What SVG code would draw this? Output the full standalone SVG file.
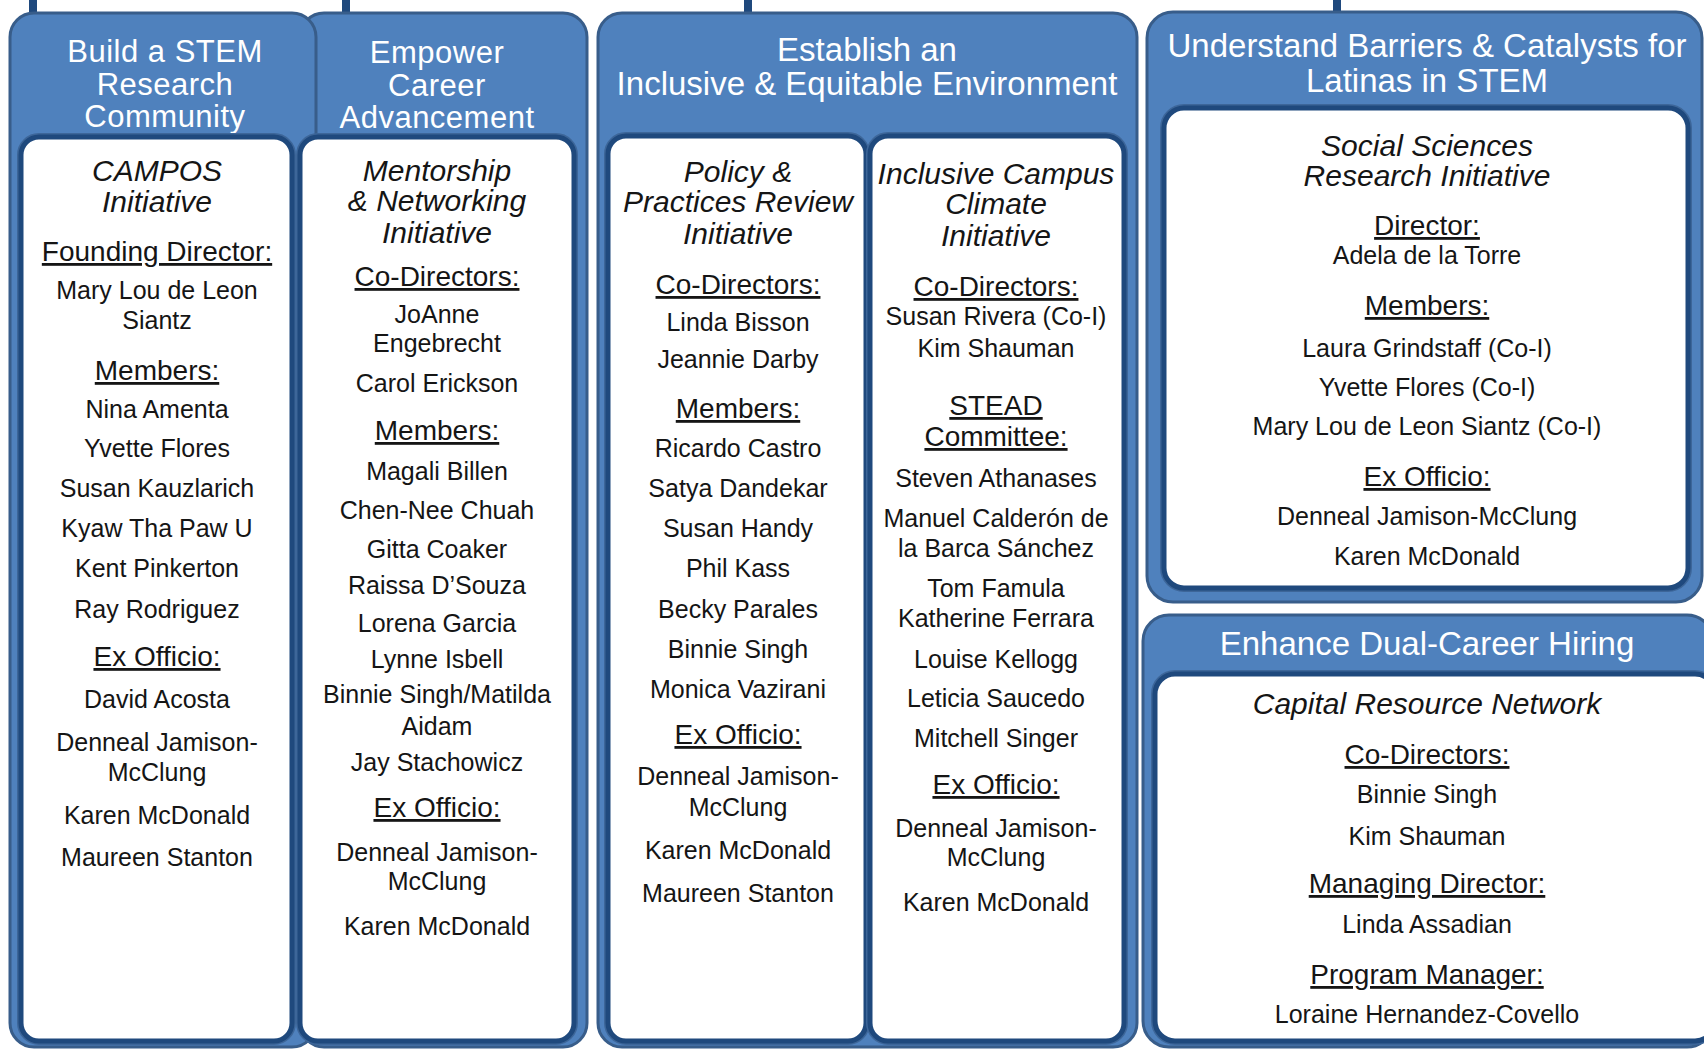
<svg xmlns="http://www.w3.org/2000/svg" width="1704" height="1049" viewBox="0 0 1704 1049">
<style>
.panel{fill:#4F81BD;stroke:#385D8A;stroke-width:3}
.halo{fill:none;stroke:#3D6699;stroke-width:8}
.box{fill:#fff;stroke:#1F497D;stroke-width:5}
.stub{fill:#1F497D}
text{font-family:"Liberation Sans",Arial,sans-serif;text-anchor:middle;fill:#151515}
.hd{font-size:33px;fill:#fff}
.hs{font-size:31px;fill:#fff;letter-spacing:0.5px}
.ti{font-size:30px;font-style:italic}
.lb{font-size:28px;text-decoration:underline}
.nm{font-size:25px}
</style>
<rect width="1704" height="1049" fill="#fff"/>
<g id="connectors">
<rect class="stub" x="29" y="0" width="8" height="14"/>
<rect class="stub" x="342" y="0" width="8" height="14"/>
<rect class="stub" x="744" y="0" width="8" height="14"/>
<rect class="stub" x="1333" y="0" width="8" height="14"/>
</g>
<g id="panel-empower">
<rect class="panel" x="300" y="13" width="287" height="1034" rx="24"/>
<text class="hs" x="437" y="63">Empower</text>
<text class="hs" x="437" y="96">Career</text>
<text class="hs" x="437" y="128">Advancement</text>
</g>
<g id="panel-build">
<rect class="panel" x="10" y="13" width="306" height="1034" rx="24"/>
<text class="hs" x="165" y="62">Build a STEM</text>
<text class="hs" x="165" y="95">Research</text>
<text class="hs" x="165" y="127">Community</text>
</g>
<g id="box-campos">
<rect class="halo" x="21" y="137" width="271" height="904" rx="18"/>
<rect class="box" x="21" y="137" width="271" height="904" rx="18"/>
<text class="ti" x="157" y="181">CAMPOS</text>
<text class="ti" x="157" y="212">Initiative</text>
<text class="lb" x="157" y="261">Founding Director:</text>
<text class="nm" x="157" y="299">Mary Lou de Leon</text>
<text class="nm" x="157" y="329">Siantz</text>
<text class="lb" x="157" y="380">Members:</text>
<text class="nm" x="157" y="418">Nina Amenta</text>
<text class="nm" x="157" y="457">Yvette Flores</text>
<text class="nm" x="157" y="497">Susan Kauzlarich</text>
<text class="nm" x="157" y="537">Kyaw Tha Paw U</text>
<text class="nm" x="157" y="577">Kent Pinkerton</text>
<text class="nm" x="157" y="618">Ray Rodriguez</text>
<text class="lb" x="157" y="666">Ex Officio:</text>
<text class="nm" x="157" y="708">David Acosta</text>
<text class="nm" x="157" y="751">Denneal Jamison-</text>
<text class="nm" x="157" y="781">McClung</text>
<text class="nm" x="157" y="824">Karen McDonald</text>
<text class="nm" x="157" y="866">Maureen Stanton</text>
</g>
<g id="box-mentorship">
<rect class="halo" x="300" y="137" width="274" height="904" rx="18"/>
<rect class="box" x="300" y="137" width="274" height="904" rx="18"/>
<text class="ti" x="437" y="181">Mentorship</text>
<text class="ti" x="437" y="211">&amp; Networking</text>
<text class="ti" x="437" y="243">Initiative</text>
<text class="lb" x="437" y="286">Co-Directors:</text>
<text class="nm" x="437" y="323">JoAnne</text>
<text class="nm" x="437" y="352">Engebrecht</text>
<text class="nm" x="437" y="392">Carol Erickson</text>
<text class="lb" x="437" y="440">Members:</text>
<text class="nm" x="437" y="480">Magali Billen</text>
<text class="nm" x="437" y="519">Chen-Nee Chuah</text>
<text class="nm" x="437" y="558">Gitta Coaker</text>
<text class="nm" x="437" y="594">Raissa D’Souza</text>
<text class="nm" x="437" y="632">Lorena Garcia</text>
<text class="nm" x="437" y="668">Lynne Isbell</text>
<text class="nm" x="437" y="703">Binnie Singh/Matilda</text>
<text class="nm" x="437" y="735">Aidam</text>
<text class="nm" x="437" y="771">Jay Stachowicz</text>
<text class="lb" x="437" y="817">Ex Officio:</text>
<text class="nm" x="437" y="861">Denneal Jamison-</text>
<text class="nm" x="437" y="890">McClung</text>
<text class="nm" x="437" y="935">Karen McDonald</text>
</g>
<g id="panel-establish">
<rect class="panel" x="598" y="13" width="539" height="1034" rx="24"/>
<text class="hd" x="867" y="61">Establish an</text>
<text class="hd" x="867" y="95">Inclusive &amp; Equitable Environment</text>
</g>
<g id="box-policy">
<rect class="halo" x="608" y="136" width="258" height="905" rx="18"/>
<rect class="box" x="608" y="136" width="258" height="905" rx="18"/>
<text class="ti" x="738" y="182">Policy &amp;</text>
<text class="ti" x="738" y="212">Practices Review</text>
<text class="ti" x="738" y="244">Initiative</text>
<text class="lb" x="738" y="294">Co-Directors:</text>
<text class="nm" x="738" y="331">Linda Bisson</text>
<text class="nm" x="738" y="368">Jeannie Darby</text>
<text class="lb" x="738" y="418">Members:</text>
<text class="nm" x="738" y="457">Ricardo Castro</text>
<text class="nm" x="738" y="497">Satya Dandekar</text>
<text class="nm" x="738" y="537">Susan Handy</text>
<text class="nm" x="738" y="577">Phil Kass</text>
<text class="nm" x="738" y="618">Becky Parales</text>
<text class="nm" x="738" y="658">Binnie Singh</text>
<text class="nm" x="738" y="698">Monica Vazirani</text>
<text class="lb" x="738" y="744">Ex Officio:</text>
<text class="nm" x="738" y="785">Denneal Jamison-</text>
<text class="nm" x="738" y="816">McClung</text>
<text class="nm" x="738" y="859">Karen McDonald</text>
<text class="nm" x="738" y="902">Maureen Stanton</text>
</g>
<g id="box-climate">
<rect class="halo" x="870" y="136" width="254" height="905" rx="18"/>
<rect class="box" x="870" y="136" width="254" height="905" rx="18"/>
<text class="ti" x="996" y="184">Inclusive Campus</text>
<text class="ti" x="996" y="214">Climate</text>
<text class="ti" x="996" y="246">Initiative</text>
<text class="lb" x="996" y="296">Co-Directors:</text>
<text class="nm" x="996" y="325">Susan Rivera (Co-I)</text>
<text class="nm" x="996" y="357">Kim Shauman</text>
<text class="lb" x="996" y="415">STEAD</text>
<text class="lb" x="996" y="446">Committee:</text>
<text class="nm" x="996" y="487">Steven Athanases</text>
<text class="nm" x="996" y="527">Manuel Calderón de</text>
<text class="nm" x="996" y="557">la Barca Sánchez</text>
<text class="nm" x="996" y="597">Tom Famula</text>
<text class="nm" x="996" y="627">Katherine Ferrara</text>
<text class="nm" x="996" y="668">Louise Kellogg</text>
<text class="nm" x="996" y="707">Leticia Saucedo</text>
<text class="nm" x="996" y="747">Mitchell Singer</text>
<text class="lb" x="996" y="794">Ex Officio:</text>
<text class="nm" x="996" y="837">Denneal Jamison-</text>
<text class="nm" x="996" y="866">McClung</text>
<text class="nm" x="996" y="911">Karen McDonald</text>
</g>
<g id="panel-barriers">
<rect class="panel" x="1147" y="12" width="555" height="590" rx="26"/>
<text class="hd" x="1427" y="57">Understand Barriers &amp; Catalysts for</text>
<text class="hd" x="1427" y="92">Latinas in STEM</text>
</g>
<g id="box-social">
<rect class="halo" x="1164" y="108" width="524" height="480" rx="20"/>
<rect class="box" x="1164" y="108" width="524" height="480" rx="20"/>
<text class="ti" x="1427" y="156">Social Sciences</text>
<text class="ti" x="1427" y="186">Research Initiative</text>
<text class="lb" x="1427" y="235">Director:</text>
<text class="nm" x="1427" y="264">Adela de la Torre</text>
<text class="lb" x="1427" y="315">Members:</text>
<text class="nm" x="1427" y="357">Laura Grindstaff (Co-I)</text>
<text class="nm" x="1427" y="396">Yvette Flores (Co-I)</text>
<text class="nm" x="1427" y="435">Mary Lou de Leon Siantz (Co-I)</text>
<text class="lb" x="1427" y="486">Ex Officio:</text>
<text class="nm" x="1427" y="525">Denneal Jamison-McClung</text>
<text class="nm" x="1427" y="565">Karen McDonald</text>
</g>
<g id="panel-dual">
<rect class="panel" x="1143" y="615" width="570" height="432" rx="26"/>
<text class="hd" x="1427" y="655">Enhance Dual-Career Hiring</text>
</g>
<g id="box-capital">
<rect class="halo" x="1155" y="674" width="560" height="367" rx="20"/>
<rect class="box" x="1155" y="674" width="560" height="367" rx="20"/>
<text class="ti" x="1427" y="714">Capital Resource Network</text>
<text class="lb" x="1427" y="764">Co-Directors:</text>
<text class="nm" x="1427" y="803">Binnie Singh</text>
<text class="nm" x="1427" y="845">Kim Shauman</text>
<text class="lb" x="1427" y="893">Managing Director:</text>
<text class="nm" x="1427" y="933">Linda Assadian</text>
<text class="lb" x="1427" y="984">Program Manager:</text>
<text class="nm" x="1427" y="1023">Loraine Hernandez-Covello</text>
</g>
</svg>
